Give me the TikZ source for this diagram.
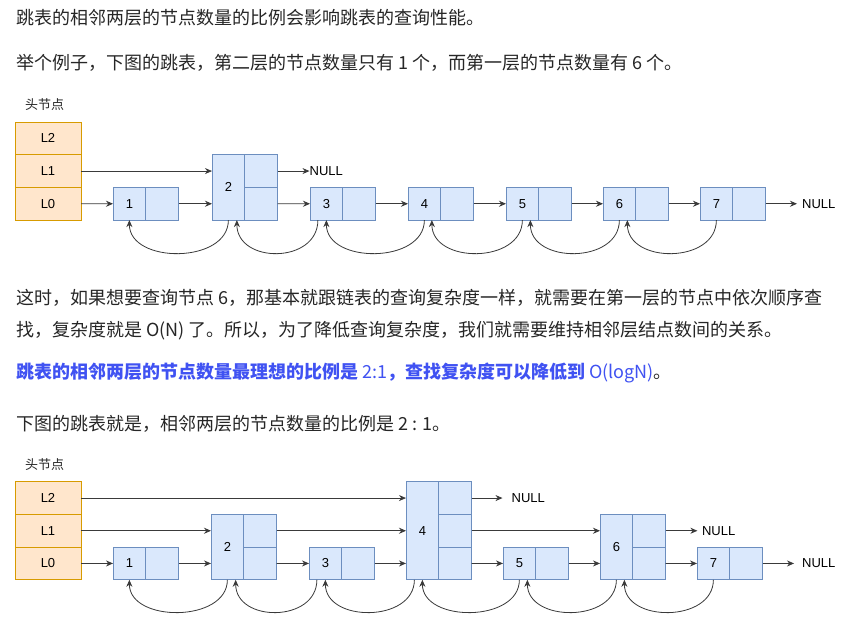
\documentclass[tikz,border=0pt]{standalone}
\usepackage{fontspec}
\setmainfont{Liberation Sans}
\newfontfamily\cjk{Noto Sans CJK SC}
\usetikzlibrary{arrows.meta,calc}
\definecolor{txt}{HTML}{262626}
\definecolor{hl}{HTML}{4052F2}
\definecolor{hfill}{HTML}{FFE6CC}
\definecolor{hdraw}{HTML}{D79B00}
\definecolor{bfill}{HTML}{DAE8FC}
\definecolor{bdraw}{HTML}{6C8EBF}
\definecolor{ln}{HTML}{3A3A3A}
\begin{document}
\begin{tikzpicture}[x=1pt,y=-1pt,
  body/.style={font=\cjk\fontsize{18}{18}\selectfont, text=txt, inner sep=0, anchor=base west},
  headcap/.style={font=\cjk\fontsize{13}{13}\selectfont, text=txt, inner sep=0, anchor=west},
  lbl/.style={font=\fontsize{13}{13}\selectfont, text=black, inner sep=0, anchor=west},
  head/.style={draw=hdraw, fill=hfill, line width=0.9pt, minimum width=66pt, minimum height=32.7pt, inner sep=0, outer sep=0, font=\fontsize{13}{13}\selectfont},
  cell/.style={draw=bdraw, fill=bfill, line width=0.9pt, minimum width=32.75pt, minimum height=32.7pt, inner sep=0, outer sep=0, font=\fontsize{13}{13}\selectfont},
  tallcell/.style={cell, minimum height=#1},
  conn/.style={draw=ln, line width=0.8pt, -{Stealth[length=7pt,width=6pt]}},
]
\fill[white] (0,0) rectangle (868,621);
\useasboundingbox (0,0) rectangle (868,621);

% ---------- text ----------
\node[body] (t1) at (16,24.3) {跳表的相邻两层的节点数量的比例会影响跳表的查询性能。};
\node[body] (t2) at (16,69.3) {举个例子，下图的跳表，第二层的节点数量只有 1 个，而第一层的节点数量有 6 个。};
\node[body] (t3) at (16,304.5) {这时，如果想要查询节点 6，那基本就跟链表的查询复杂度一样，就需要在第一层的节点中依次顺序查};
\node[body] (t4) at (16,336.5) {找，复杂度就是 O(N) 了。所以，为了降低查询复杂度，我们就需要维持相邻层结点数间的关系。};
\node[body, text=hl] (t5) at (16,378.3) {{\bfseries 跳表的相邻两层的节点数量最理想的比例是} 2:1{\bfseries ，查找复杂度可以降低到} O(logN)\textcolor{txt}{。}};
\node[body] (t6) at (16,430) {下图的跳表就是，相邻两层的节点数量的比例是 2 : 1。};

% ---------- top diagram ----------
\node[headcap] (ct) at (25,105) {头节点};
\node[head, anchor=north west] (hL2t) at (15,122) {L2};
\node[head, anchor=north] (hL1t) at (hL2t.south) {L1};
\node[head, anchor=north] (hL0t) at (hL1t.south) {L0};

\foreach \i/\x in {1/113,3/310,4/408,5/506,6/603,7/700}{
  \node[cell, anchor=north west] (tl\i) at (\x,187.4) {\i};
  \node[cell, anchor=north west] (tp\i) at (tl\i.north east) {};
}
\node[tallcell=65.4pt, anchor=north west] (tl2) at (212,154.7) {2};
\node[cell, anchor=north west] (tq2) at (tl2.north east) {};
\node[cell, anchor=north west] (tp2) at (tq2.south west) {};

\node[lbl] (tn1) at ([xshift=32pt]tq2.east) {NULL};
\node[lbl] (tn0) at ([xshift=36.5pt]tp7.east) {NULL};

\draw[conn] (hL1t.east) -- (hL1t.east -| tl2.west);
\draw[conn] (hL0t.east) -- (tl1.west);
\draw[conn] (tp1.east) -- (tp1.east -| tl2.west);
\draw[conn] (tp2.east) -- (tl3.west);
\foreach \i/\j in {3/4,4/5,5/6,6/7} \draw[conn] (tp\i.east) -- (tl\j.west);
\draw[conn] (tq2.east) -- (tn1.west);
\draw[conn] (tp7.east) -- ([xshift=-5pt]tn0.west);

\draw[conn] (tl2.south) .. controls +(0,44) and +(0,44) .. (tl1.south);
\draw[conn] ([xshift=-8.5pt]tl3.south) .. controls +(0,44) and +(0,44) .. ([xshift=8.5pt]tl2.south);
\draw[conn] (tl4.south) .. controls +(0,44) and +(0,44) .. (tl3.south);
\draw[conn] (tl5.south) .. controls +(0,44) and +(0,44) .. ([xshift=7.5pt]tl4.south);
\draw[conn] (tl6.south) .. controls +(0,44) and +(0,44) .. ([xshift=8pt]tl5.south);
\draw[conn] (tl7.south) .. controls +(0,44) and +(0,44) .. ([xshift=8pt]tl6.south);

% ---------- bottom diagram ----------
\node[headcap] (cb) at (25,465) {头节点};
\node[head, anchor=north west] (hL2b) at (15,481.7) {L2};
\node[head, anchor=north] (hL1b) at (hL2b.south) {L1};
\node[head, anchor=north] (hL0b) at (hL1b.south) {L0};

\foreach \i/\x in {1/113,3/309,5/503,7/697}{
  \node[cell, anchor=north west] (bl\i) at (\x,547.1) {\i};
  \node[cell, anchor=north west] (bp\i) at (bl\i.north east) {};
}
\node[tallcell=65.4pt, anchor=north west] (bl2) at (211,514.4) {2};
\node[cell, anchor=north west] (bq2) at (bl2.north east) {};
\node[cell, anchor=north west] (bp2) at (bq2.south west) {};

\node[tallcell=98.1pt, anchor=north west] (bl4) at (406,481.7) {4};
\node[cell, anchor=north west] (bs4) at (bl4.north east) {};
\node[cell, anchor=north west] (bq4) at (bs4.south west) {};
\node[cell, anchor=north west] (bp4) at (bq4.south west) {};

\node[tallcell=65.4pt, anchor=north west] (bl6) at (600,514.4) {6};
\node[cell, anchor=north west] (bq6) at (bl6.north east) {};
\node[cell, anchor=north west] (bp6) at (bq6.south west) {};

\node[lbl] (bn2) at ([xshift=40pt]bs4.east) {NULL};
\node[lbl] (bn1) at ([xshift=36.4pt]bq6.east) {NULL};
\node[lbl] (bn0) at ([xshift=39.5pt]bp7.east) {NULL};

\draw[conn] (hL2b.east) -- (hL2b.east -| bl4.west);
\draw[conn] (hL1b.east) -- (hL1b.east -| bl2.west);
\draw[conn] (bq2.east) -- (bq2.east -| bl4.west);
\draw[conn] (bq4.east) -- (bq4.east -| bl6.west);
\draw[conn] (bs4.east) -- ([xshift=-9pt]bn2.west);
\draw[conn] (bq6.east) -- ([xshift=-4.5pt]bn1.west);
\draw[conn] (hL0b.east) -- (bl1.west);
\draw[conn] (bp1.east) -- (bp1.east -| bl2.west);
\draw[conn] (bp2.east) -- (bl3.west);
\draw[conn] (bp3.east) -- (bp3.east -| bl4.west);
\draw[conn] (bp4.east) -- (bl5.west);
\draw[conn] (bp5.east) -- (bp5.east -| bl6.west);
\draw[conn] (bp6.east) -- (bl7.west);
\draw[conn] (bp7.east) -- ([xshift=-8pt]bn0.west);

\draw[conn] (bl2.south) .. controls +(0,43) and +(0,43) .. (bl1.south);
\draw[conn] ([xshift=-8.5pt]bl3.south) .. controls +(0,43) and +(0,43) .. ([xshift=8.3pt]bl2.south);
\draw[conn] ([xshift=-8pt]bl4.south) .. controls +(0,43) and +(0,43) .. (bl3.south);
\draw[conn] (bl5.south) .. controls +(0,43) and +(0,43) .. (bl4.south);
\draw[conn] (bl6.south) .. controls +(0,43) and +(0,43) .. ([xshift=8pt]bl5.south);
\draw[conn] (bl7.south) .. controls +(0,43) and +(0,43) .. ([xshift=8pt]bl6.south);
\end{tikzpicture}
\end{document}
